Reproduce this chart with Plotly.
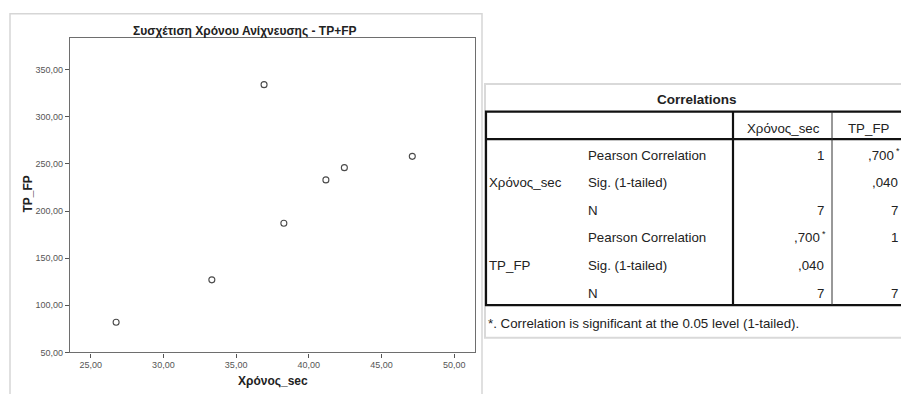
import plotly.graph_objects as go

# ---- data -------------------------------------------------------------
time_sec = [26.75, 33.33, 36.92, 38.28, 41.17, 42.44, 47.11]
tp_fp = [82, 127, 334, 187, 233, 246, 258]

x_tick_vals = [25, 30, 35, 40, 45, 50]
x_tick_text = ["25,00", "30,00", "35,00", "40,00", "45,00", "50,00"]
y_tick_vals = [50, 100, 150, 200, 250, 300, 350]
y_tick_text = ["50,00", "100,00", "150,00", "200,00", "250,00", "300,00", "350,00"]

chart_title = "Συσχέτιση Χρόνου Ανίχνευσης - TP+FP"
x_title = "Χρόνος_sec"
y_title = "TP_FP"

table_title = "Correlations"
col_headers = ["Χρόνος_sec", "TP_FP"]
row_groups = ["Χρόνος_sec", "TP_FP"]
stat_labels = ["Pearson Correlation", "Sig. (1-tailed)", "N"]
col1_values = ["1", "", "7", ",700*", ",040", "7"]
col2_values = [",700*", ",040", "7", "1", "", "7"]
footnote = "*. Correlation is significant at the 0.05 level (1-tailed)."

# ---- page geometry helpers (pixel -> paper) ----------------------------
W, H = 901, 394


def px(x):
    return x / W


def py(y):
    return 1 - y / H


FONT = "Arial, Liberation Sans, sans-serif"
TXT = "#222222"
TSIZE = 13.3   # table body text

fig = go.Figure()

fig.add_trace(go.Scatter(
    x=time_sec, y=tp_fp, mode="markers",
    marker=dict(symbol="circle-open", size=6, color="#4a4a4a",
                line=dict(width=1.1, color="#4a4a4a")),
    showlegend=False, hoverinfo="x+y",
))

annotations = []
shapes = []


def label(text, x, y, anchor="left", size=TSIZE, angle=0, yanchor="middle"):
    annotations.append(dict(text=text, x=px(x), y=py(y), xref="paper", yref="paper",
                            showarrow=False, xanchor=anchor, yanchor=yanchor,
                            textangle=angle, borderpad=0,
                            font=dict(family=FONT, size=size, color=TXT)))


# ---- scatter chart frame and titles ----------------------------------
shapes.append(dict(type="rect", xref="paper", yref="paper",
                   x0=px(10), x1=px(482), y0=py(14), y1=py(410),
                   line=dict(color="#d6d6d6", width=1.5), fillcolor="white",
                   layer="below"))

label("<b>" + chart_title + "</b>", 245, 31, "center", 12)
label("<b>" + x_title + "</b>", 273, 386, "center", 12)
label("<b>" + y_title + "</b>", 27, 197, "center", 12, angle=-90)

# ---- correlations table ----------------------------------------------
TL, TT, TB = 486, 113, 309     # table box left / top / bottom
TR = 912                       # right side runs past the page edge
HDR = 141                      # header separator
C1, C2 = 733, 832              # column separators

# outer card
shapes.append(dict(type="rect", xref="paper", yref="paper",
                   x0=px(485), x1=px(915), y0=py(85), y1=py(342),
                   line=dict(color="#d9d9d9", width=2), fillcolor="white",
                   layer="below"))
# table borders
shapes.append(dict(type="rect", xref="paper", yref="paper",
                   x0=px(TL), x1=px(TR), y0=py(TT), y1=py(TB),
                   line=dict(color="#111111", width=2.2)))
shapes.append(dict(type="line", xref="paper", yref="paper",
                   x0=px(TL), x1=px(TR), y0=py(HDR), y1=py(HDR),
                   line=dict(color="#111111", width=2.2)))
shapes.append(dict(type="line", xref="paper", yref="paper",
                   x0=px(C1), x1=px(C1), y0=py(TT), y1=py(TB),
                   line=dict(color="#111111", width=2.2)))
shapes.append(dict(type="line", xref="paper", yref="paper",
                   x0=px(C2), x1=px(C2), y0=py(TT), y1=py(TB),
                   line=dict(color="#333333", width=1)))

label("<b>" + table_title + "</b>", 697, 101, "center", 13.5)
label(col_headers[0], 783, 130, "center")
label(col_headers[1], 869, 130, "center")

ROW0, ROWH = 157, 28
n_stats = len(stat_labels)

for g, group in enumerate(row_groups):
    label(group, 488, ROW0 + ROWH * (g * n_stats + 1))
    for s, stat in enumerate(stat_labels):
        r = g * n_stats + s
        yy = ROW0 + ROWH * r
        label(stat, 587, yy)
        for val, right in ((col1_values[r], 825), (col2_values[r], 899)):
            if not val:
                continue
            if val.endswith("*"):
                # significance marker drawn as a small raised asterisk
                label(val[:-1], right - 4, yy, "right")
                label("*", right - 4, yy - 4, "left", 9)
            else:
                label(val, right, yy, "right")

label(footnote, 487, 328)

axis_common = dict(
    showgrid=False, zeroline=False, showline=True, mirror=True,
    linecolor="#6e6e6e", linewidth=1.3,
    ticks="outside", ticklen=4, tickcolor="#555555", tickwidth=1,
    tickfont=dict(family=FONT, size=9, color="#555555"),
)

fig.update_layout(
    width=W, height=H,
    margin=dict(l=0, r=0, t=0, b=0),
    paper_bgcolor="white",
    plot_bgcolor="#f0f0f0",
    xaxis=dict(domain=[px(70), px(475)], range=[23.58, 51.42],
               tickvals=x_tick_vals, ticktext=x_tick_text, **axis_common),
    yaxis=dict(domain=[py(357), py(38)], range=[50, 384],
               tickvals=y_tick_vals, ticktext=y_tick_text, **axis_common),
    shapes=shapes,
    annotations=annotations,
    showlegend=False,
)

fig.write_html("out.html")
